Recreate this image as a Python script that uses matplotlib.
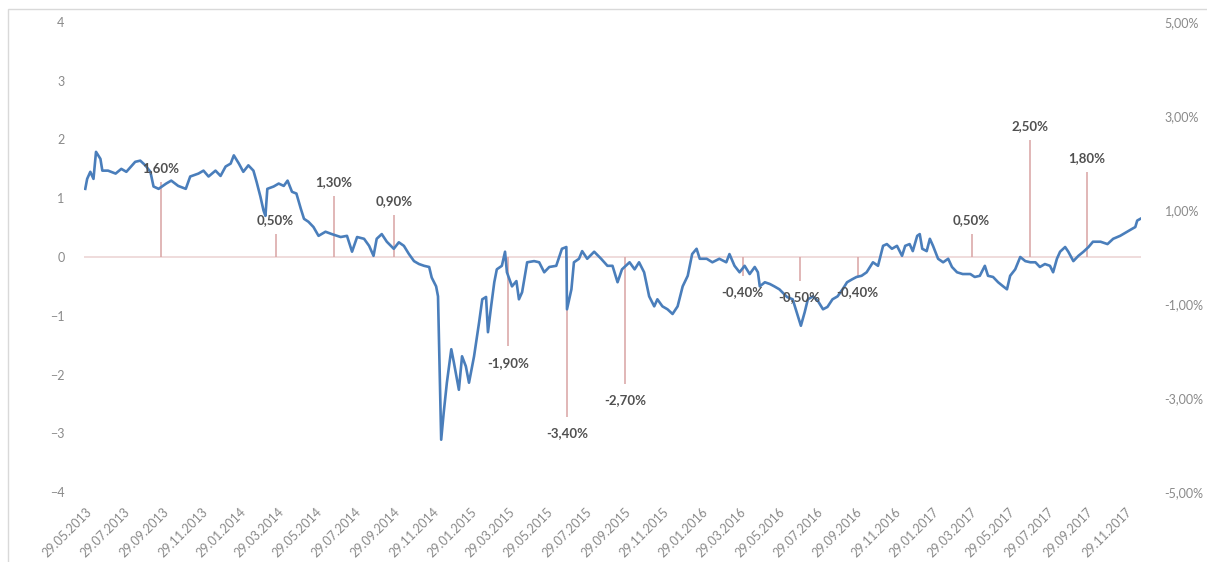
import matplotlib
matplotlib.use("Agg")
import matplotlib.pyplot as plt
import matplotlib.dates as mdates
from matplotlib.patches import Rectangle
from matplotlib.ticker import FixedLocator, FuncFormatter
import numpy as np
import pandas as pd

plt.rcParams['font.family'] = ['Lato', 'DejaVu Sans']

# index series: days after 29.05.2013 and value (left axis)
start = pd.Timestamp('2013-05-29')
days = [0, 3, 8, 13, 17, 24, 27, 36, 48, 57, 65, 79, 87, 95, 103, 108, 116, 128, 136, 147,
        159, 166, 179, 187, 195, 206, 214, 222, 230, 235, 243, 250, 258, 266, 271, 277, 282, 285, 288, 298,
        306, 314, 320, 327, 334, 341, 346, 353, 361, 369, 380, 390, 404, 414, 422, 430, 441, 449, 456, 461,
        469, 477, 488, 496, 504, 512, 520, 528, 536, 544, 548, 555, 558, 563, 567, 572, 579, 583, 591, 596,
        602, 607, 615, 623, 628, 634, 637, 642, 647, 651, 659, 664, 667, 675, 682, 686, 691, 699, 710, 718,
        726, 734, 745, 754, 761, 762, 769, 773, 781, 786, 794, 805, 816, 826, 834, 842, 849, 861, 869, 876,
        884, 892, 900, 905, 913, 921, 929, 937, 945, 953, 960, 967, 972, 983, 992, 1003, 1014, 1019, 1027, 1035,
        1043, 1051, 1059, 1064, 1067, 1075, 1083, 1090, 1098, 1110, 1119, 1127, 1132, 1138, 1143, 1151, 1159, 1167, 1174, 1182,
        1190, 1198, 1205, 1213, 1220, 1228, 1236, 1246, 1254, 1262, 1268, 1276, 1284, 1292, 1297, 1304, 1309, 1316, 1320, 1324,
        1331, 1336, 1341, 1349, 1357, 1365, 1371, 1379, 1388, 1400, 1407, 1415, 1423, 1428, 1436, 1444, 1452, 1458, 1463, 1471,
        1479, 1487, 1495, 1503, 1510, 1518, 1526, 1531, 1537, 1542, 1550, 1555, 1563, 1571, 1579, 1587, 1594, 1606, 1617, 1626,
        1637, 1648, 1656, 1661, 1664, 1669]
values = [1.16, 1.33, 1.45, 1.33, 1.79, 1.67, 1.47, 1.47, 1.42, 1.50, 1.45, 1.62, 1.64, 1.56, 1.45, 1.20, 1.16, 1.25, 1.30, 1.21,
          1.16, 1.37, 1.42, 1.47, 1.37, 1.47, 1.38, 1.54, 1.59, 1.73, 1.59, 1.45, 1.56, 1.47, 1.28, 1.03, 0.79, 0.70, 1.16, 1.20,
          1.25, 1.21, 1.30, 1.11, 1.08, 0.82, 0.65, 0.60, 0.51, 0.36, 0.43, 0.39, 0.34, 0.36, 0.09, 0.34, 0.31, 0.19, 0.02, 0.31,
          0.39, 0.26, 0.14, 0.25, 0.19, 0.05, -0.07, -0.12, -0.15, -0.17, -0.35, -0.50, -0.67, -3.11, -2.65, -2.14, -1.57, -1.79, -2.26, -1.69,
          -1.86, -2.14, -1.69, -1.11, -0.72, -0.68, -1.28, -0.84, -0.43, -0.21, -0.15, 0.09, -0.26, -0.50, -0.41, -0.72, -0.60, -0.09, -0.07, -0.09,
          -0.26, -0.17, -0.15, 0.14, 0.17, -0.89, -0.55, -0.09, -0.03, 0.10, -0.03, 0.09, -0.03, -0.15, -0.15, -0.43, -0.21, -0.09, -0.21, -0.09,
          -0.26, -0.67, -0.84, -0.72, -0.84, -0.89, -0.97, -0.84, -0.50, -0.32, 0.05, 0.14, -0.03, -0.03, -0.09, -0.03, -0.09, 0.05, -0.15, -0.26,
          -0.15, -0.29, -0.17, -0.26, -0.50, -0.43, -0.46, -0.50, -0.55, -0.68, -0.72, -1.00, -1.17, -0.94, -0.72, -0.67, -0.75, -0.89, -0.85, -0.72,
          -0.67, -0.55, -0.43, -0.38, -0.34, -0.32, -0.26, -0.09, -0.15, 0.19, 0.22, 0.14, 0.19, 0.02, 0.19, 0.22, 0.10, 0.36, 0.39, 0.14,
          0.10, 0.31, 0.19, -0.03, -0.09, -0.03, -0.17, -0.26, -0.29, -0.29, -0.34, -0.32, -0.15, -0.32, -0.34, -0.43, -0.50, -0.55, -0.32, -0.21,
          0.00, -0.07, -0.09, -0.09, -0.17, -0.12, -0.15, -0.26, -0.03, 0.09, 0.17, 0.09, -0.07, 0.02, 0.09, 0.17, 0.26, 0.26, 0.22, 0.31,
          0.36, 0.43, 0.48, 0.51, 0.62, 0.65]

# quarterly changes (right axis, %)
event_dates = ['2013-09-26', '2014-03-26', '2014-06-26', '2014-09-29', '2015-03-29', '2015-06-30', '2015-09-30',
               '2016-04-03', '2016-07-02', '2016-10-02', '2017-03-31', '2017-07-01', '2017-09-29']
event_values = [1.6, 0.5, 1.3, 0.9, -1.9, -3.4, -2.7, -0.4, -0.5, -0.4, 0.5, 2.5, 1.8]

left_ticks = [-4, -3, -2, -1, 0, 1, 2, 3, 4]
right_ticks = [-5, -3, -1, 1, 3, 5]

dates = start + pd.to_timedelta(days, unit='D')
ev_dates = pd.to_datetime(event_dates)
tick_dates = pd.date_range('2013-05-29', '2017-11-29', freq=pd.DateOffset(months=2))

fig = plt.figure(figsize=(12.07, 5.62), dpi=100)
fig.patches.append(Rectangle((8 / 1207, -0.1), 1.2, 1 - 9 / 562 + 0.1, transform=fig.transFigure,
                             fill=False, edgecolor='#d9d9d9', linewidth=1))

ax = fig.add_axes([84 / 1207, 1 - 492 / 562, (1141 - 84) / 1207, (492 - 22) / 562])
ax2 = ax.twinx()
ax.set_zorder(ax2.get_zorder() + 1)
ax.patch.set_visible(False)

ax2.axhline(0, color='#ecd6d6', linewidth=1.2, zorder=1)
# thin bars for the quarterly changes
ax2.vlines(ev_dates, 0, event_values, color='#d9a3a3', linewidth=1.1, zorder=2)
for d, v in zip(ev_dates, event_values):
    txt = f"{v:.2f}%".replace('.', ',')
    off = 10 if v > 0 else -12
    ax.annotate(txt, xy=(mdates.date2num(d), v), xycoords=ax2.transData, xytext=(0, off),
                textcoords='offset points', ha='center', va='center', fontsize=9.5,
                fontweight='bold', color='#505050', zorder=5)

ax.plot(dates, values, color='#4a7ebb', linewidth=1.9, zorder=3)

ax.set_ylim(-4, 4)
ax2.set_ylim(-5, 5)
ax.set_xlim(start - pd.Timedelta(days=2), dates[-1] + pd.Timedelta(days=1))

ax.yaxis.set_major_locator(FixedLocator(left_ticks))
ax2.yaxis.set_major_locator(FixedLocator(right_ticks))
ax2.yaxis.set_major_formatter(FuncFormatter(lambda v, p: f"{v:.2f}%".replace('.', ',')))

ax.set_xticks(tick_dates)
ax.xaxis.set_major_formatter(mdates.DateFormatter('%d.%m.%Y'))
plt.setp(ax.get_xticklabels(), rotation=45, ha='right', rotation_mode='anchor')

for a in (ax, ax2):
    for s in a.spines.values():
        s.set_visible(False)
    a.tick_params(length=0, labelsize=9, labelcolor='#8a8a8a')
ax.tick_params(axis='y', pad=14)
ax2.tick_params(axis='y', pad=17)
ax.tick_params(axis='x', pad=10)

fig.savefig('out.png', dpi=100)
